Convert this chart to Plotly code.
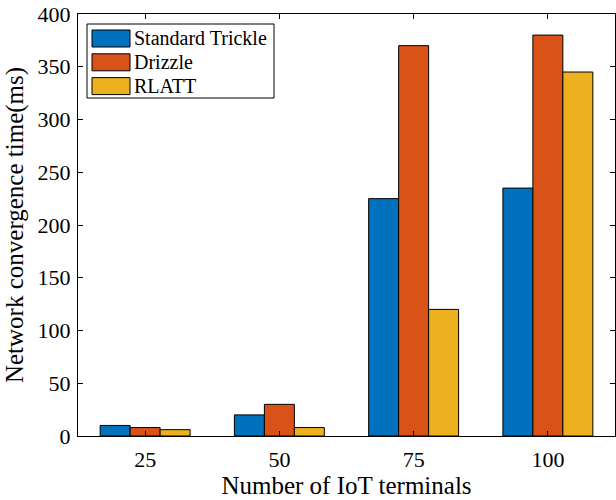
import plotly.graph_objects as go

# Data
categories = ["25", "50", "75", "100"]
series_names = ["Standard Trickle", "Drizzle", "RLATT"]
standard_trickle = [10, 20, 225, 235]
drizzle = [8, 30, 370, 380]
rlatt = [6, 8, 120, 345]
colors = ["#0072BD", "#D95319", "#EDB120"]

values = [standard_trickle, drizzle, rlatt]

W, H = 616, 500
L, R, T, B = 78, 1, 14, 64
FONT = "Liberation Serif, Times New Roman, serif"

fig = go.Figure()
for name, vals, col in zip(series_names, values, colors):
    fig.add_trace(go.Bar(
        x=categories, y=vals, name=name,
        marker=dict(color=col, line=dict(color="black", width=1)),
        showlegend=False,
    ))

axis_common = dict(
    showline=True, linecolor="black", linewidth=1, mirror="ticks",
    ticks="inside", ticklen=5, tickcolor="black", tickwidth=1,
    showgrid=False, zeroline=False,
    tickfont=dict(family=FONT, size=22, color="black"),
)

fig.update_layout(
    width=W, height=H,
    margin=dict(l=L, r=R, t=T, b=B),
    paper_bgcolor="white", plot_bgcolor="white",
    barmode="group", bargap=0.33, bargroupgap=0,
    font=dict(family=FONT, color="black"),
    xaxis=dict(
        **axis_common, range=[-0.5, 3.5], ticklabelstandoff=4,
        title=dict(text="Number of IoT terminals",
                   font=dict(family=FONT, size=25, color="black"), standoff=3),
    ),
    yaxis=dict(
        **axis_common, range=[0, 400], dtick=50, ticklabelstandoff=2,
        title=dict(text="Network convergence time(ms)",
                   font=dict(family=FONT, size=25, color="black"), standoff=6),
    ),
)

# Custom legend box with wide swatches
pw, ph = W - L - R, H - T - B


def px(x):
    return (x - L) / pw


def py(y):
    return (H - B - y) / ph


fig.add_shape(type="rect", xref="paper", yref="paper",
              x0=px(87), x1=px(274), y0=py(98), y1=py(24),
              line=dict(color="black", width=1), fillcolor="white", layer="above")
row_top, row_step, sw_h = 30, 23.8, 17
for i, (name, col) in enumerate(zip(series_names, colors)):
    y0 = row_top + i * row_step
    fig.add_shape(type="rect", xref="paper", yref="paper",
                  x0=px(92), x1=px(130), y0=py(y0 + sw_h), y1=py(y0),
                  line=dict(color="black", width=1), fillcolor=col, layer="above")
    fig.add_annotation(xref="paper", yref="paper", x=px(132), y=py(y0 + sw_h / 2),
                       text=name, showarrow=False, xanchor="left", yanchor="middle",
                       font=dict(family=FONT, size=20, color="black"))

fig.write_html("out.html")
